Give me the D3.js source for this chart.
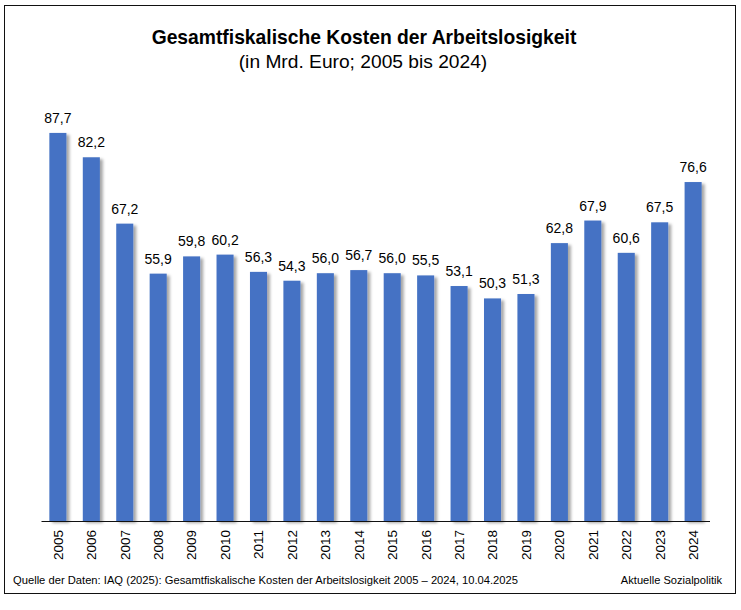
<!DOCTYPE html>
<html>
<head>
<meta charset="utf-8">
<script src="https://cdn.jsdelivr.net/npm/d3@7"></script>
<style>
  body { margin: 0; background: #fff; }
  svg { display: block; font-family: "Liberation Sans", Arial, sans-serif; }
</style>
</head>
<body>
<svg id="chart" width="741" height="610"></svg>
<script>
'use strict';

var years = ['2005', '2006', '2007', '2008', '2009', '2010', '2011', '2012', '2013', '2014',
  '2015', '2016', '2017', '2018', '2019', '2020', '2021', '2022', '2023', '2024'];
var costs = [87.7, 82.2, 67.2, 55.9, 59.8, 60.2, 56.3, 54.3, 56.0, 56.7,
  56.0, 55.5, 53.1, 50.3, 51.3, 62.8, 67.9, 60.6, 67.5, 76.6];

var title = 'Gesamtfiskalische Kosten der Arbeitslosigkeit';
var subtitle = '(in Mrd. Euro; 2005 bis 2024)';
var source = 'Quelle der Daten: IAQ (2025): Gesamtfiskalische Kosten der Arbeitslosigkeit 2005 \u2013 2024, 10.04.2025';
var credit = 'Aktuelle Sozialpolitik';

var svg = d3.select('#chart');
var baseline = 521;

var data = years.map(function (y, i) {
  return { year: y, value: costs[i] };
});

var xScale = d3.scaleBand()
    .domain(years)
    .range([41, 710])
    .paddingInner(0.49)
    .paddingOuter(0.25);

var yScale = d3.scaleLinear()
    .domain([0, 100])
    .range([baseline, baseline - 442.5]);

var fmt = function (v) {
  return d3.format('.1f')(v).replace('.', ',');
};

// shadow
var defs = svg.append('defs');
var filter = defs.append('filter')
    .attr('id', 'shadow')
    .attr('x', '-30%').attr('y', '-10%')
    .attr('width', '180%').attr('height', '130%');
filter.append('feDropShadow')
    .attr('dx', 3)
    .attr('dy', 2)
    .attr('stdDeviation', 1.6)
    .attr('flood-color', '#000')
    .attr('flood-opacity', 0.35);

// frame
svg.append('rect')
    .attr('x', 4.5).attr('y', 5.5)
    .attr('width', 731).attr('height', 588)
    .attr('fill', 'none')
    .attr('stroke', '#111')
    .attr('stroke-width', 1);

// titles
svg.append('text')
    .attr('x', 364).attr('y', 44)
    .attr('text-anchor', 'middle')
    .attr('font-size', 19.3)
    .attr('font-weight', 'bold')
    .attr('fill', '#000')
    .text(title);

svg.append('text')
    .attr('x', 363).attr('y', 67.5)
    .attr('text-anchor', 'middle')
    .attr('font-size', 19.2)
    .attr('fill', '#000')
    .text(subtitle);

// bars
svg.append('g')
    .selectAll('rect')
    .data(data)
  .enter().append('rect')
    .attr('x', function (d) { return xScale(d.year); })
    .attr('y', function (d) { return yScale(d.value); })
    .attr('width', xScale.bandwidth())
    .attr('height', function (d) { return baseline - yScale(d.value); })
    .attr('fill', '#4472C4')
    .attr('filter', 'url(#shadow)');

// value labels
svg.append('g')
    .selectAll('text')
    .data(data)
  .enter().append('text')
    .attr('x', function (d) { return xScale(d.year) + xScale.bandwidth() / 2; })
    .attr('y', function (d) { return yScale(d.value) - 10; })
    .attr('text-anchor', 'middle')
    .attr('font-size', 14)
    .attr('fill', '#000')
    .text(function (d) { return fmt(d.value); });

// x axis
var xAxis = d3.axisBottom(xScale).tickSize(0).tickPadding(0);
var axisG = svg.append('g')
    .attr('transform', 'translate(0,' + baseline + ')')
    .call(xAxis);
axisG.select('.domain')
    .attr('d', 'M41.5,0.5H710')
    .attr('stroke', '#111');
axisG.selectAll('.tick text')
    .attr('font-family', '"Liberation Sans", Arial, sans-serif')
    .attr('font-size', 13.5)
    .attr('fill', '#000')
    .attr('text-anchor', 'end')
    .attr('transform', 'rotate(-90)')
    .attr('x', -9)
    .attr('y', 0)
    .attr('dy', '0.36em');

// footer
svg.append('text')
    .attr('x', 13).attr('y', 583.5)
    .attr('font-size', 11.2)
    .attr('fill', '#000')
    .text(source);

svg.append('text')
    .attr('x', 722).attr('y', 583.5)
    .attr('text-anchor', 'end')
    .attr('font-size', 11.1)
    .attr('fill', '#000')
    .text(credit);
</script>
</body>
</html>
